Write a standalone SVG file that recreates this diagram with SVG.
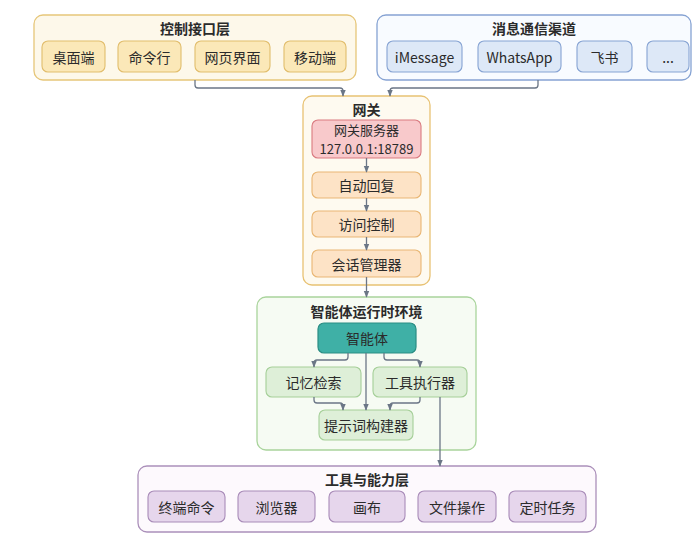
<svg xmlns="http://www.w3.org/2000/svg" width="699" height="542" viewBox="0 0 699 542">
<defs>
<marker id="arr" viewBox="0 0 10 10" refX="9" refY="5" markerWidth="7" markerHeight="7" orient="auto" markerUnits="userSpaceOnUse">
<path d="M0,1 L10,5 L0,9 z" fill="#6b7686"/>
</marker>
<style>
text{font-family:"Noto Sans CJK SC","Noto Sans",sans-serif;font-size:14px;fill:#2b2b2b;text-anchor:middle;dominant-baseline:central}
.t{font-weight:bold;font-size:14px}
.s{font-size:13px}
.c{fill:none;stroke:#6b7686;stroke-width:1.3;marker-end:url(#arr)}
.yl{fill:#fdf8ea;stroke:#e6c679;stroke-width:1.3}
.yi{fill:#fbe8b8;stroke:#e1bd6c;stroke-width:1.1}
.bl{fill:#f8fbff;stroke:#86a3d3;stroke-width:1.3}
.bi{fill:#dde8f7;stroke:#86a3d3;stroke-width:1.1}
.gw{fill:#fefaf0;stroke:#e8c273;stroke-width:1.3}
.rs{fill:#f8c9cb;stroke:#d97a80;stroke-width:1.1}
.oi{fill:#fde3c6;stroke:#e9b674;stroke-width:1.1}
.gl{fill:#f6fbf3;stroke:#a9d49c;stroke-width:1.3}
.ag{fill:#3fb0a6;stroke:#2a8d84;stroke-width:1.2}
.gi{fill:#deefd8;stroke:#a5cf98;stroke-width:1.1}
.pl{fill:#fdf9fd;stroke:#ab90ba;stroke-width:1.3}
.pi{fill:#e6d6ec;stroke:#a88bb8;stroke-width:1.1}
</style>
</defs>
<rect width="699" height="542" fill="#ffffff"/>

<g id="control-layer">
<rect class="yl" x="34" y="15" width="322" height="65" rx="9"/>
<text class="t" x="195" y="28">控制接口层</text>
</g>
<g id="desktop"><rect class="yi" x="42" y="41" width="63" height="31" rx="6"/><text x="73.5" y="56.5">桌面端</text></g>
<g id="cli"><rect class="yi" x="118" y="41" width="63" height="31" rx="6"/><text x="149.5" y="56.5">命令行</text></g>
<g id="web"><rect class="yi" x="195" y="41" width="75" height="31" rx="6"/><text x="232.5" y="56.5">网页界面</text></g>
<g id="mobile"><rect class="yi" x="284" y="41" width="62" height="31" rx="6"/><text x="315" y="56.5">移动端</text></g>

<g id="channel-layer">
<rect class="bl" x="377" y="15" width="314" height="65" rx="9"/>
<text class="t" x="534" y="28">消息通信渠道</text>
</g>
<g id="imessage"><rect class="bi" x="387" y="41" width="75" height="31" rx="6"/><text x="424.5" y="56.5">iMessage</text></g>
<g id="whatsapp"><rect class="bi" x="478" y="41" width="83" height="31" rx="6"/><text x="519.5" y="56.5">WhatsApp</text></g>
<g id="feishu"><rect class="bi" x="577" y="41" width="55" height="31" rx="6"/><text x="604.5" y="56.5">飞书</text></g>
<g id="more"><rect class="bi" x="647" y="41" width="42" height="31" rx="6"/><text x="668" y="56.5">...</text></g>

<g id="gateway">
<rect class="gw" x="303" y="96" width="127" height="189" rx="9"/>
<text class="t" x="366.5" y="109">网关</text>
</g>
<g id="gateway-server"><rect class="rs" x="312" y="120" width="109" height="38" rx="6"/><text class="s" x="366.5" y="129.5">网关服务器</text><text class="s" x="366.5" y="148.5">127.0.0.1:18789</text></g>
<g id="auto-reply"><rect class="oi" x="312" y="172" width="109" height="26" rx="6"/><text x="366.5" y="185">自动回复</text></g>
<g id="access-control"><rect class="oi" x="312" y="211" width="109" height="26" rx="6"/><text x="366.5" y="224">访问控制</text></g>
<g id="session-manager"><rect class="oi" x="312" y="250" width="109" height="27" rx="6"/><text x="366.5" y="263.5">会话管理器</text></g>

<g id="runtime">
<rect class="gl" x="257" y="297" width="219" height="153" rx="9"/>
<text class="t" x="366.5" y="311">智能体运行时环境</text>
</g>
<g id="agent"><rect class="ag" x="318" y="323" width="98" height="30" rx="6"/><text x="367" y="338">智能体</text></g>
<g id="memory"><rect class="gi" x="266" y="367" width="95" height="30" rx="6"/><text x="313.5" y="382">记忆检索</text></g>
<g id="tool-executor"><rect class="gi" x="373" y="367" width="94" height="30" rx="6"/><text x="420" y="382">工具执行器</text></g>
<g id="prompt-builder"><rect class="gi" x="319" y="410" width="94" height="30" rx="6"/><text x="366" y="425">提示词构建器</text></g>

<g id="tools-layer">
<rect class="pl" x="138" y="466" width="458" height="66" rx="9"/>
<text class="t" x="367" y="479">工具与能力层</text>
</g>
<g id="terminal"><rect class="pi" x="148" y="491" width="77" height="31" rx="6"/><text x="186.5" y="506.5">终端命令</text></g>
<g id="browser"><rect class="pi" x="238" y="491" width="77" height="31" rx="6"/><text x="276.5" y="506.5">浏览器</text></g>
<g id="canvas"><rect class="pi" x="329" y="491" width="76" height="31" rx="6"/><text x="367" y="506.5">画布</text></g>
<g id="file-ops"><rect class="pi" x="418" y="491" width="78" height="31" rx="6"/><text x="457" y="506.5">文件操作</text></g>
<g id="cron"><rect class="pi" x="509" y="491" width="77" height="31" rx="6"/><text x="547.5" y="506.5">定时任务</text></g>

<g id="connectors">
<path class="c" d="M195,80 V85 Q195,88 198,88 H340 Q343,88 343,91 V96"/>
<path class="c" d="M538,80 V85 Q538,88 535,88 H393 Q390,88 390,91 V96"/>
<path class="c" d="M366.5,158 V172"/>
<path class="c" d="M366.5,198 V211"/>
<path class="c" d="M366.5,237 V250"/>
<path class="c" d="M366.5,277 V297"/>
<path class="c" d="M348,353 V357 Q348,360 345,360 H317 Q314,360 314,363 V367"/>
<path class="c" d="M384,353 V357 Q384,360 387,360 H417 Q420,360 420,363 V367"/>
<path class="c" d="M366,353 V410"/>
<path class="c" d="M314,397 V400 Q314,403 317,403 H340 Q343,403 343,406 V410"/>
<path class="c" d="M420,397 V400 Q420,403 417,403 H393 Q390,403 390,406 V410"/>
<path class="c" d="M440,397 V466"/>
</g>
</svg>
